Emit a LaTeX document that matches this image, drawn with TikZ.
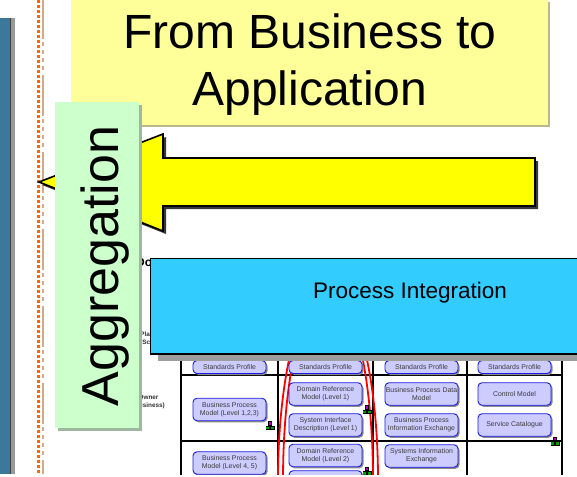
\documentclass[tikz,border=0pt]{standalone}
\usepackage{fontspec}
\setmainfont{Liberation Sans}
\usetikzlibrary{shadows}
\definecolor{bandblue}{HTML}{3B789B}
\definecolor{titleyellow}{HTML}{FFFF99}
\definecolor{titleshadow}{HTML}{B9B98C}
\definecolor{labelgreen}{HTML}{CCFFCC}
\definecolor{greenshadow}{HTML}{9DB89D}
\definecolor{skyblue}{HTML}{33CCFF}
\definecolor{cellfill}{HTML}{CCCCFF}
\definecolor{cellline}{HTML}{1A1AE0}
\definecolor{celltext}{HTML}{3A3A3A}
\definecolor{orangeline}{HTML}{FF6600}
\definecolor{tanline}{HTML}{D8A888}
\definecolor{arrowyellow}{HTML}{FFFF00}
\definecolor{puremagenta}{HTML}{C000C0}
\definecolor{puregreen}{HTML}{00A000}
\tikzset{
  x=1pt,y=-1pt,
  cellbox/.style={draw=cellline,line width=0.9pt,fill=cellfill,rounded corners=4pt,
    minimum width=73pt,minimum height=22.5pt,inner sep=0pt,align=center,
    text=celltext,font=\fontsize{6.9}{8}\selectfont,
    drop shadow={shadow xshift=1.5pt,shadow yshift=-1.5pt,fill=black!45,opacity=1}},
  stdbox/.style={cellbox,minimum height=13pt},
  gridline/.style={draw=black,line width=1.1pt},
  rowlabel/.style={font=\bfseries\fontsize{6.4}{8}\selectfont,align=center,text=black!80},
  redarc/.style={draw=red,line width=1.8pt},
  sheet/.style={inner sep=0pt,anchor=north west}
}
\newcommand{\treeicon}[1]{%
  \begin{scope}[shift={(#1)}]
    \fill[black] (-2,-4.5) rectangle (2,0);
    \fill[black] (-4.5,0) rectangle (4.5,4.5);
    \fill[puremagenta] (-1.2,-3.2) rectangle (1.2,-0.8);
    \fill[puregreen] (-3.6,1.2) rectangle (-1.2,3.6);
    \fill[puregreen] (1.2,1.2) rectangle (3.6,3.6);
  \end{scope}}
\begin{document}
\begin{tikzpicture}
\useasboundingbox (0,0) rectangle (577,476);
\fill[white] (0,0) rectangle (577,476);
% left band
\fill[black!40] (10,18) rectangle (15,474);
\fill[black!75] (10,18) rectangle (11,474);
\fill[bandblue] (0,18) rectangle (10,474);
% vertical rules
\coordinate (oa) at (38.5,0); \coordinate (ob) at (38.5,474);
\coordinate (ta) at (43,-2); \coordinate (tb) at (43,474);
\draw[orangeline,line width=3pt,dash pattern=on 3pt off 2pt] (oa) -- (ob);
\draw[tanline,line width=2pt,dash pattern=on 41pt off 3pt on 4pt off 4pt on 4pt off 4pt on 4pt off 4pt on 4pt off 5pt] (ta) -- (tb);
% title
\fill[titleshadow] (73,2) rectangle (550,127);
\node[sheet,fill=titleyellow,minimum width=477pt,minimum height=125pt] (title) at (71,0) {};
\node[anchor=base,font=\fontsize{48}{50}\selectfont] (t1) at (310,49) {From Business to};
\node[anchor=base,font=\fontsize{48}{50}\selectfont] (t2) at (310,105) {Application};
% hidden row labels
\node[anchor=base west,font=\bfseries\fontsize{12}{14}\selectfont,inner sep=0pt] (doc) at (136,266) {Do};
\node[rowlabel] (planner) at (152,339) {Planner\\(Scope)};
\node[rowlabel] (owner) at (148.5,402) {Owner\\(Business)};
% table
\begin{scope}
\clip (170,340) rectangle (577,474);
\foreach \xx in {181,278,373,467,562} \draw[gridline] (\xx,345) -- (\xx,476);
\draw[gridline] (181,375) -- (562,375);
\draw[gridline] (181,441) -- (562,441);
\draw[redarc] (328,480) ellipse [x radius=50,y radius=192];
\draw[redarc] (328,480) ellipse [x radius=45,y radius=190];
\node[stdbox] (a1) at (229.5,367) {Standards Profile};
\node[stdbox] (b1) at (325.5,367) {Standards Profile};
\node[stdbox] (c1) at (421.5,367) {Standards Profile};
\node[stdbox] (d1) at (514.5,367) {Standards Profile};
\node[cellbox] (a2) at (229.5,409.5) {Business Process\\Model (Level 1,2,3)};
\node[cellbox] (b2) at (325.5,394) {Domain Reference\\Model (Level 1)};
\node[cellbox] (b3) at (325.5,425) {System Interface\\Description (Level 1)};
\node[cellbox] (c2) at (421.5,394) {Business Process Data\\Model};
\node[cellbox] (c3) at (421.5,425) {Business Process\\Information Exchange};
\node[cellbox] (d2) at (514.5,394) {Control Model};
\node[cellbox] (d3) at (514.5,425) {Service Catalogue};
\node[cellbox] (a3) at (229.5,463) {Business Process\\Model (Level 4, 5)};
\node[cellbox] (b4) at (325.5,455.5) {Domain Reference\\Model (Level 2)};
\node[cellbox] (c4) at (421.5,456) {Systems Information\\Exchange};
\node[cellbox] (b5) at (325.5,482) {};
\treeicon{270,425.5}
\treeicon{367,409.5}
\treeicon{367,471}
\treeicon{555,441}
\end{scope}
% arrow
\coordinate (tip) at (39,182);
\coordinate (hu) at (163,134); \coordinate (hl) at (163,231);
\coordinate (su) at (163,158); \coordinate (sl) at (163,206);
\coordinate (eu) at (535,158); \coordinate (el) at (535,206);
\fill[black!78,transform canvas={shift={(3pt,-3pt)}}] (tip) -- (hu) -- (su) -- (eu) -- (el) -- (sl) -- (hl) -- cycle;
\draw[black,line width=1.6pt,fill=arrowyellow,line join=miter] (tip) -- (hu) -- (su) -- (eu) -- (el) -- (sl) -- (hl) -- cycle;
% green label
\fill[greenshadow] (58,105) rectangle (142,431);
\node[sheet,fill=labelgreen,minimum width=84pt,minimum height=326pt] (green) at (55,102) {};
\node[rotate=90,font=\fontsize{52}{54}\selectfont,anchor=base] (agg) at (118,266) {Aggregation};
% process integration
\fill[black!38] (158,300) rectangle (577,361);
\node[sheet,draw=black,line width=1.5pt,fill=skyblue,minimum width=430pt,minimum height=95.5pt] (pi) at (149.5,257.5) {};
\node[anchor=base,font=\fontsize{22.5}{24}\selectfont] (pit) at (410,298) {Process Integration};
\end{tikzpicture}
\end{document}
